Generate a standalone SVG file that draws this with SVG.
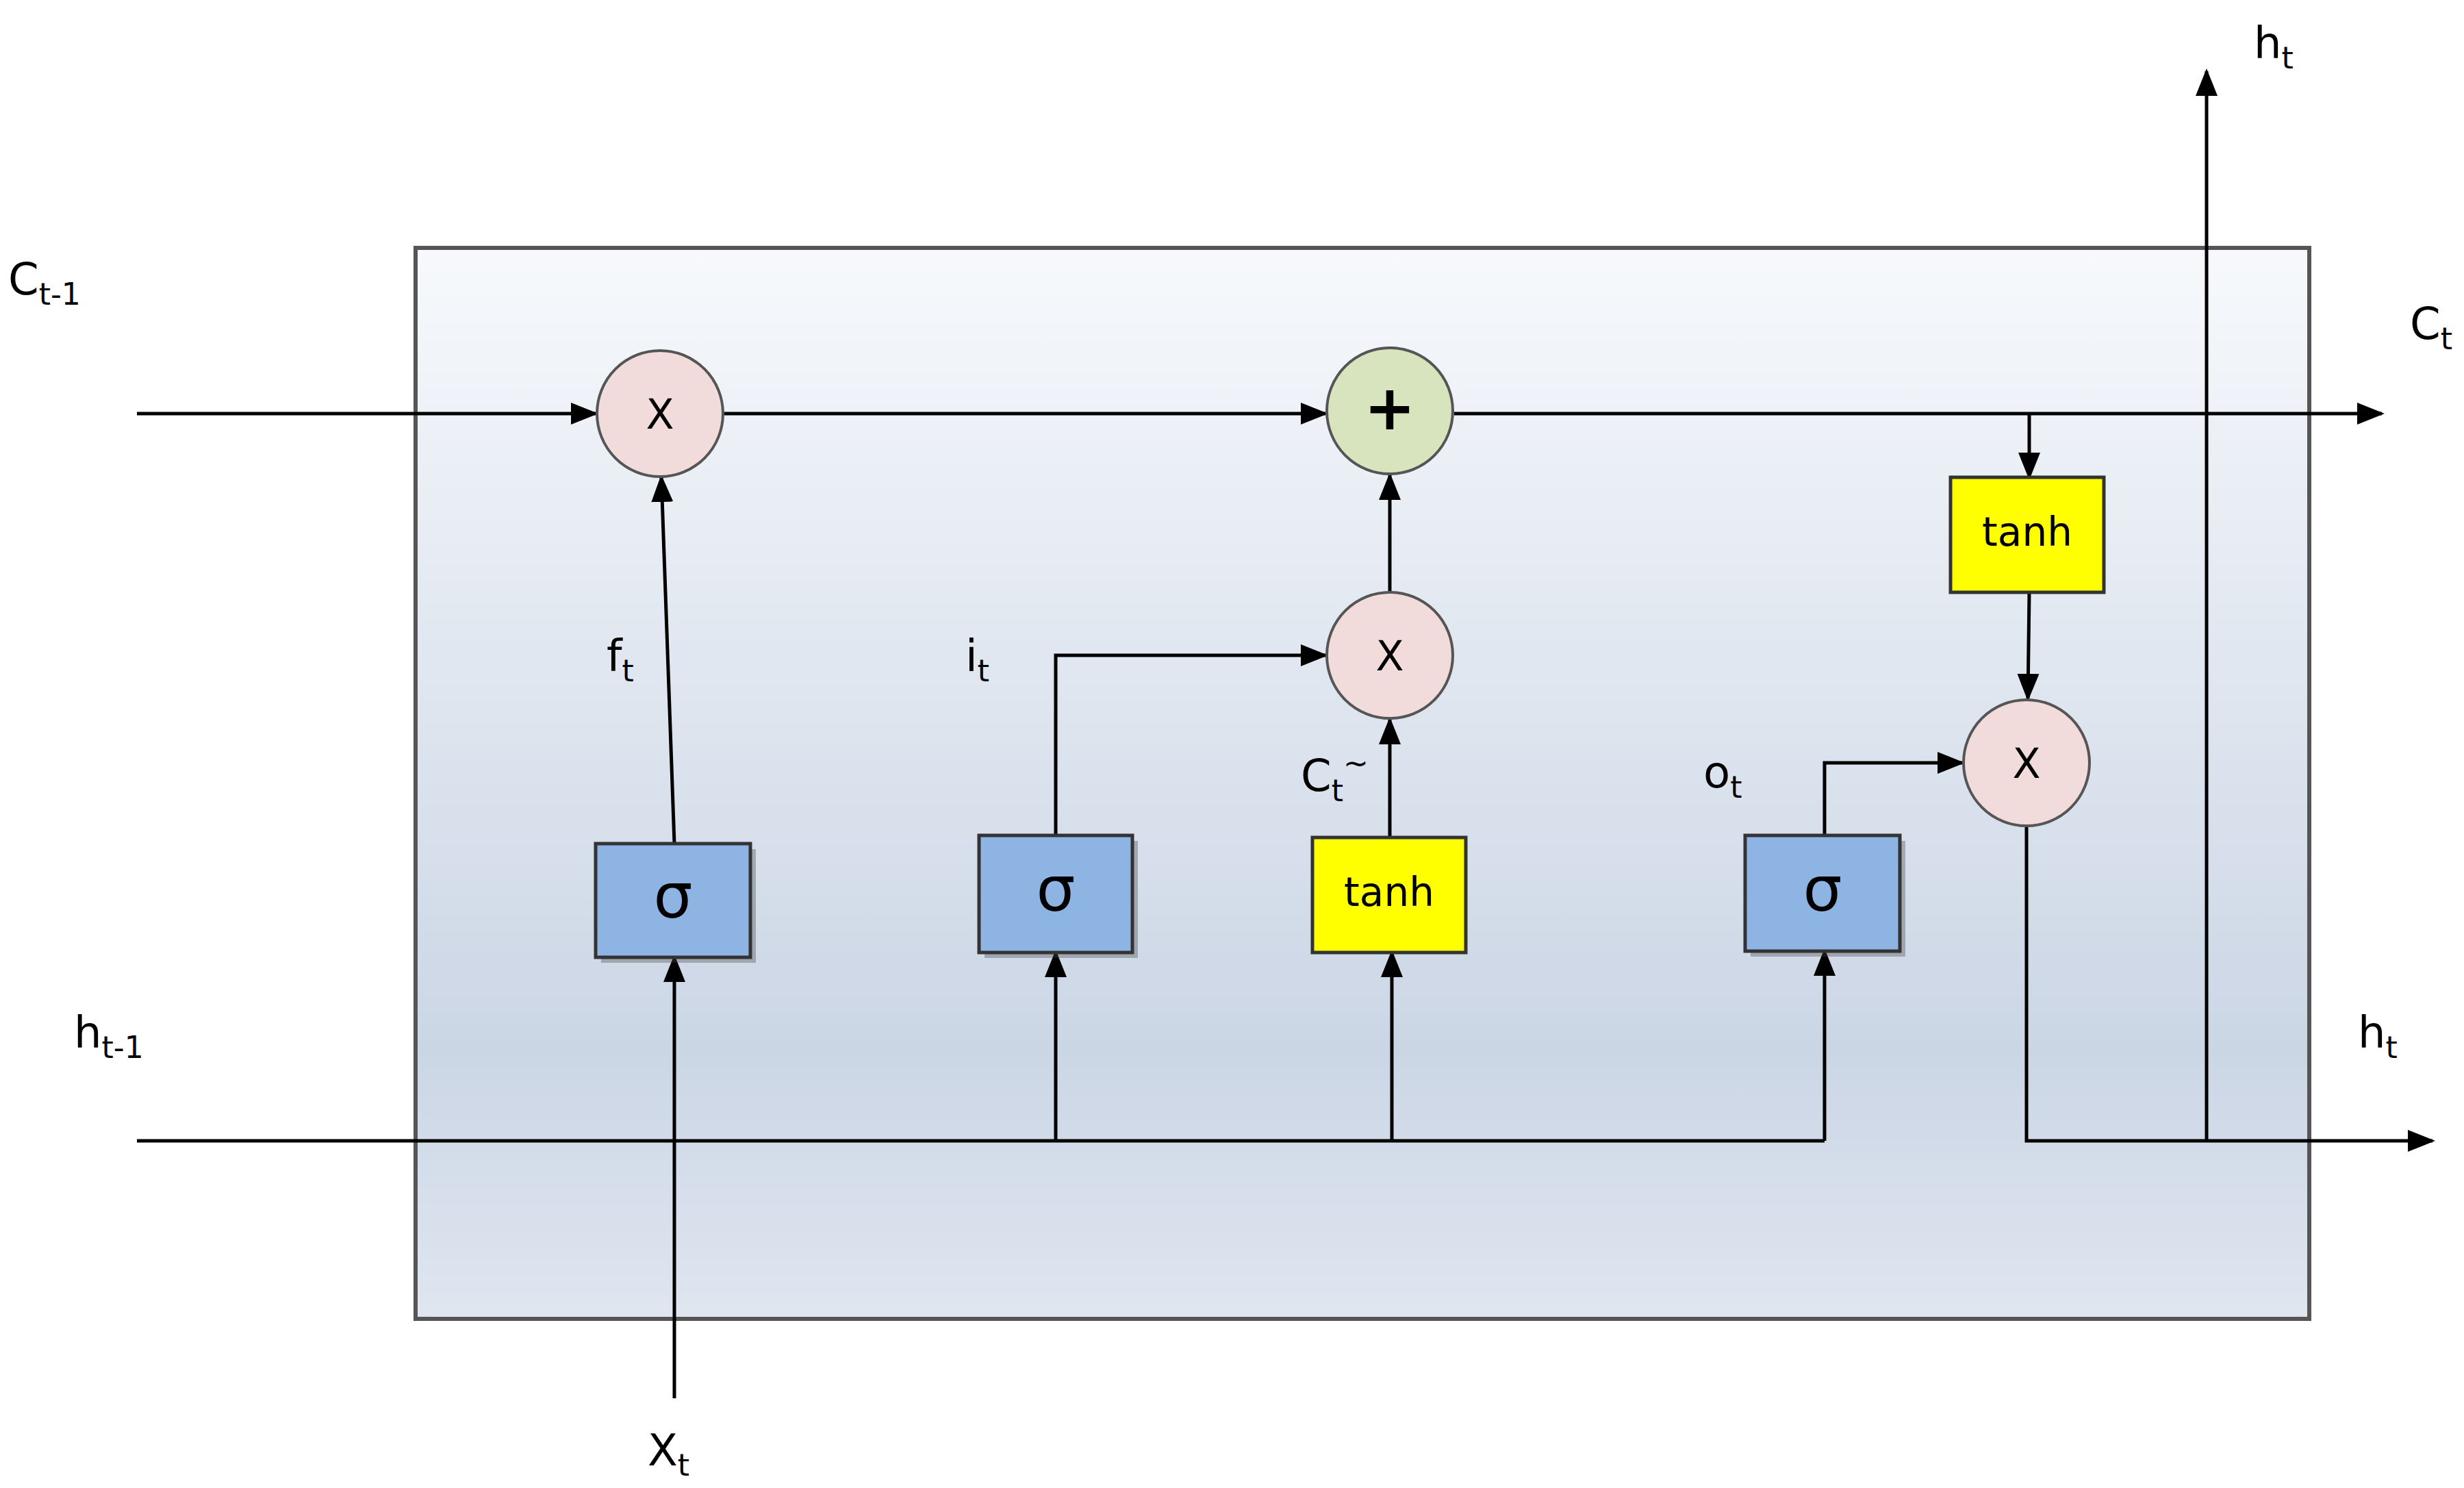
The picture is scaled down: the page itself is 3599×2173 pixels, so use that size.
<svg xmlns="http://www.w3.org/2000/svg" width="3599" height="2173" viewBox="0 0 3599 2173">
<defs>
<linearGradient id="bg" x1="0" y1="0" x2="0" y2="1">
<stop offset="0" stop-color="#f7f9fc"/><stop offset="0.75" stop-color="#cbd6e5"/><stop offset="1" stop-color="#dfe6f0"/>
</linearGradient>
<marker id="ar" viewBox="0 0 10 10" refX="9" refY="5" markerWidth="18" markerHeight="18" markerUnits="userSpaceOnUse" orient="auto"><path d="M0,0 L10,5 L0,10 z" fill="#000"/></marker>
<marker id="arb" viewBox="0 0 10 10" refX="9" refY="5" markerWidth="40" markerHeight="40" markerUnits="userSpaceOnUse" orient="auto"><path d="M0,1 L10,5 L0,9 z" fill="#000"/></marker>
</defs>
<style>
.w{stroke:#000;stroke-width:5;fill:none}
.c{fill:#f2dcdb;stroke:#555;stroke-width:4}
.s{fill:#8eb4e3;stroke:#333;stroke-width:5}
.y{fill:#ffff00;stroke:#333;stroke-width:5}
.t{font-family:"DejaVu Sans",sans-serif;fill:#000}
.l{font-size:64px}
.sub{font-size:44px}
</style>
<rect x="607" y="362" width="2766" height="1564" fill="url(#bg)" stroke="#555" stroke-width="6"/>
<g id="connectors">
<line class="w" x1="200" y1="604" x2="870" y2="604" marker-end="url(#arb)"/>
<line class="w" x1="1056" y1="604" x2="1936" y2="604" marker-end="url(#arb)"/>
<line class="w" x1="2124" y1="604" x2="3479" y2="604" marker-end="url(#arb)"/>
<polyline class="w" points="2964,604 2964,697" marker-end="url(#arb)"/>
<line class="w" x1="2964" y1="865" x2="2962" y2="1020" marker-end="url(#arb)"/>
<line class="w" x1="985" y1="1232" x2="966" y2="697" marker-end="url(#arb)"/>
<polyline class="w" points="1542,1220 1542,957 1936,957" marker-end="url(#arb)"/>
<polyline class="w" points="2665,1220 2665,1114 2866,1114" marker-end="url(#arb)"/>
<line class="w" x1="2030" y1="1223" x2="2030" y2="1051" marker-end="url(#arb)"/>
<line class="w" x1="2030" y1="863" x2="2030" y2="694" marker-end="url(#arb)"/>
<line class="w" x1="200" y1="1666" x2="2665" y2="1666"/>
<line class="w" x1="1542" y1="1666" x2="1542" y2="1391" marker-end="url(#arb)"/>
<line class="w" x1="2033" y1="1666" x2="2033" y2="1391" marker-end="url(#arb)"/>
<line class="w" x1="2665" y1="1666" x2="2665" y2="1389" marker-end="url(#arb)"/>
<line class="w" x1="985" y1="2042" x2="985" y2="1398" marker-end="url(#arb)"/>
<polyline class="w" points="2960,1206 2960,1666 3553,1666" marker-end="url(#arb)"/>
<line class="w" x1="3223" y1="1666" x2="3223" y2="104" marker-end="url(#arb)"/>
</g>
<g id="forget_mul"><circle class="c" cx="964" cy="604" r="92"/><text class="t" x="964" y="626" font-size="60" text-anchor="middle">X</text></g>
<g id="plus"><circle cx="2030" cy="600" r="92" fill="#d7e4bd" stroke="#555" stroke-width="4"/><text class="t" x="2030" y="627" font-size="90" font-weight="bold" text-anchor="middle">+</text></g>
<g id="input_mul"><circle class="c" cx="2030" cy="957" r="92"/><text class="t" x="2030" y="979" font-size="60" text-anchor="middle">X</text></g>
<g id="output_mul"><circle class="c" cx="2960" cy="1114" r="92"/><text class="t" x="2960" y="1136" font-size="60" text-anchor="middle">X</text></g>
<g id="tanh_out"><rect class="y" x="2849" y="697" width="224" height="168"/><text class="t" x="2961" y="797" font-size="58" text-anchor="middle">tanh</text></g>
<g id="tanh_c"><rect class="y" x="1917" y="1223" width="224" height="168"/><text class="t" x="2029" y="1323" font-size="58" text-anchor="middle">tanh</text></g>
<g id="sigma_f"><rect x="878" y="1240" width="226" height="166" fill="#444" opacity="0.35"/><rect class="s" x="870" y="1232" width="226" height="166"/><text class="t" x="983" y="1340" font-size="90" text-anchor="middle">σ</text></g>
<g id="sigma_i"><rect x="1438" y="1228" width="224" height="171" fill="#444" opacity="0.35"/><rect class="s" x="1430" y="1220" width="224" height="171"/><text class="t" x="1542" y="1330" font-size="90" text-anchor="middle">σ</text></g>
<g id="sigma_o"><rect x="2557" y="1228" width="226" height="169" fill="#444" opacity="0.35"/><rect class="s" x="2549" y="1220" width="226" height="169"/><text class="t" x="2662" y="1330" font-size="90" text-anchor="middle">σ</text></g>
<g id="labels">
<text class="t l" x="12" y="430">C<tspan class="sub" dy="15">t-1</tspan></text>
<text class="t l" x="3520" y="495">C<tspan class="sub" dy="15">t</tspan></text>
<text class="t l" x="3292" y="85">h<tspan class="sub" dy="15">t</tspan></text>
<text class="t l" x="108" y="1530">h<tspan class="sub" dy="15">t-1</tspan></text>
<text class="t l" x="3444" y="1530">h<tspan class="sub" dy="15">t</tspan></text>
<text class="t l" x="946" y="2140">X<tspan class="sub" dy="15">t</tspan></text>
<text class="t l" x="886" y="980">f<tspan class="sub" dy="15">t</tspan></text>
<text class="t l" x="1410" y="980">i<tspan class="sub" dy="15">t</tspan></text>
<text class="t l" x="1900" y="1155">C<tspan class="sub" dy="15">t</tspan><tspan class="sub" dy="-40">~</tspan></text>
<text class="t l" x="2488" y="1150">o<tspan class="sub" dy="15">t</tspan></text>
</g>
</svg>
